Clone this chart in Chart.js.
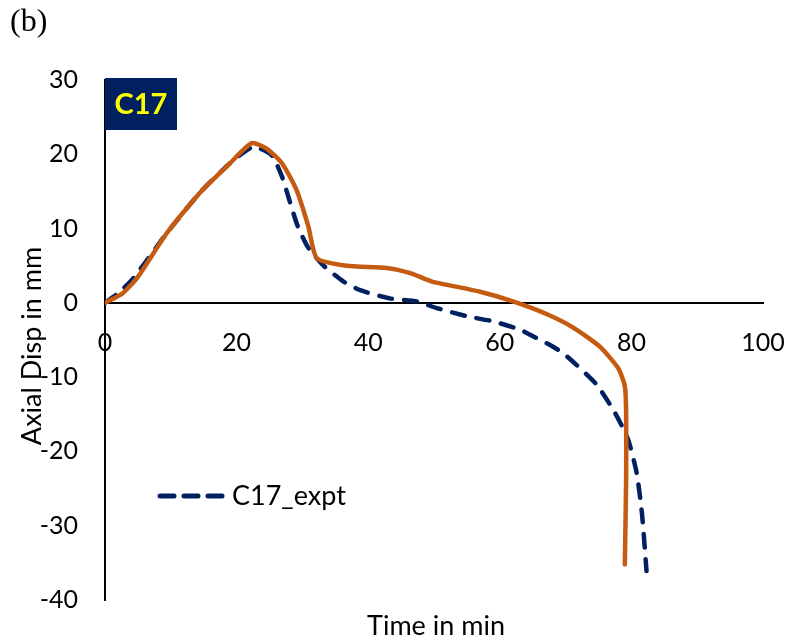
<!DOCTYPE html>
<html>
<head>
<meta charset="utf-8">
<script src="https://cdn.jsdelivr.net/npm/chart.js@4"></script>
<style>
html, body { margin: 0; padding: 0; background: #fff; }
#wrap { width: 802px; height: 642px; position: relative; }
</style>
</head>
<body>
<div id="wrap"><canvas id="myChart"></canvas></div>
<script>
const exptTime = [0, 2, 4, 6, 9.4, 14.4, 19, 22.5, 25.3, 26.9, 28.1, 29.3, 30.9, 33.1, 36.2, 38.8, 43.3, 47.4, 50.4, 55, 59, 63.1, 64.6, 68.1, 70.2, 74.7, 77.5, 79.5, 80.8, 81.6, 82.3];
const exptDisp = [0, 1.3, 3, 5.3, 9.4, 14.8, 18.8, 21.0, 19.9, 17, 13.6, 10.3, 7.4, 5.1, 2.9, 1.7, 0.6, 0.2, -0.7, -1.8, -2.5, -3.6, -4.3, -5.9, -7.2, -11, -14.8, -18.4, -22.9, -28.3, -36.1];

const modelTime = [0, 2.7, 5, 9.4, 14.4, 19, 22.3, 24.5, 26.9, 29.1, 30.9, 32.2, 36.7, 42.8, 46.4, 49.6, 57, 62, 67.1, 71.1, 75.2, 78, 79, 79.2, 79.2, 79];
const modelDisp = [0, 1.3, 3.5, 9.4, 14.8, 18.8, 21.5, 20.8, 18.8, 15.2, 10.3, 6.0, 5.0, 4.7, 4.0, 2.9, 1.5, 0.2, -1.5, -3.3, -5.9, -8.8, -11.2, -14.8, -23.8, -35.2];

const panelLabel = "(b)";
const boxLabel = "C17";
const xTitle = "Time in min";
const yTitle = "Axial Disp in mm";

const NAVY = "#002060";
const ORANGE = "#C55A11";
const FONT = "Lato, 'Open Sans', sans-serif";

function toPoints(xs, ys) {
    return xs.map((x, i) => ({ x: x, y: ys[i] }));
}

const decorations = {
    id: "decorations",
    afterDraw(chart) {
        const ctx = chart.ctx;
        ctx.save();
        // panel label
        ctx.fillStyle = "#000";
        ctx.font = "32px 'Liberation Serif', serif";
        ctx.textBaseline = "middle";
        ctx.textAlign = "left";
        ctx.fillText(panelLabel, 10, 23);

        // C17 box
        ctx.fillStyle = NAVY;
        ctx.fillRect(105, 78, 72, 52);
        ctx.fillStyle = "#FFFF00";
        ctx.font = "bold 29px " + FONT;
        ctx.textAlign = "center";
        ctx.fillText(boxLabel, 141, 105);

        // legend
        ctx.strokeStyle = NAVY;
        ctx.lineWidth = 5;
        ctx.lineCap = "round";
        ctx.setLineDash([14, 10]);
        ctx.beginPath();
        ctx.moveTo(160, 496);
        ctx.lineTo(222, 496);
        ctx.stroke();
        ctx.setLineDash([]);
        ctx.fillStyle = "#000";
        ctx.font = "27px " + FONT;
        ctx.textAlign = "left";
        ctx.fillText(chart.data.datasets[0].label, 232, 496);

        // axis titles
        ctx.textAlign = "center";
        ctx.fillText(xTitle, 436, 626);
        ctx.translate(32, 346);
        ctx.rotate(-Math.PI / 2);
        ctx.fillText(yTitle, 0, 0);
        ctx.restore();
    },
};

const ctx = document.getElementById("myChart");
const chart = new Chart(ctx, {
    type: "scatter",
    data: {
        datasets: [
            {
                label: "C17_expt",
                data: toPoints(exptTime, exptDisp),
                showLine: true,
                borderColor: NAVY,
                borderWidth: 4.5,
                borderDash: [13, 12],
                borderCapStyle: "round",
                pointRadius: 0,
                tension: 0.2,
                order: 2,
            },
            {
                label: "C17_model",
                data: toPoints(modelTime, modelDisp),
                showLine: true,
                borderColor: ORANGE,
                borderWidth: 4.5,
                borderCapStyle: "round",
                pointRadius: 0,
                tension: 0.2,
                order: 1,
            },
        ],
    },
    plugins: [decorations],
    options: {
        responsive: true,
        maintainAspectRatio: false,
        animation: { duration: 0 },
        layout: { padding: { left: 0, right: 39, top: 80, bottom: 39 } },
        plugins: {
            legend: { display: false },
            tooltip: { enabled: false },
        },
        scales: {
            x: {
                type: "linear",
                position: { y: 0 },
                min: 0,
                max: 100,
                grid: { display: false, drawTicks: false },
                border: { display: true, color: "#000", width: 2 },
                ticks: {
                    stepSize: 20,
                    padding: 25,
                    color: "#000",
                    font: { family: FONT, size: 25 },
                    maxRotation: 0,
                },
                afterFit: (scale) => {
                    scale.paddingLeft = 0;
                    scale.paddingRight = 0;
                },
            },
            y: {
                type: "linear",
                position: "left",
                min: -40,
                max: 30,
                grid: { display: false, drawTicks: false },
                border: { display: true, color: "#000", width: 2 },
                ticks: {
                    stepSize: 10,
                    padding: 27,
                    color: "#000",
                    font: { family: FONT, size: 25 },
                },
                afterFit: (scale) => {
                    scale.width = 105;
                },
            },
        },
    },
});
</script>
</body>
</html>
